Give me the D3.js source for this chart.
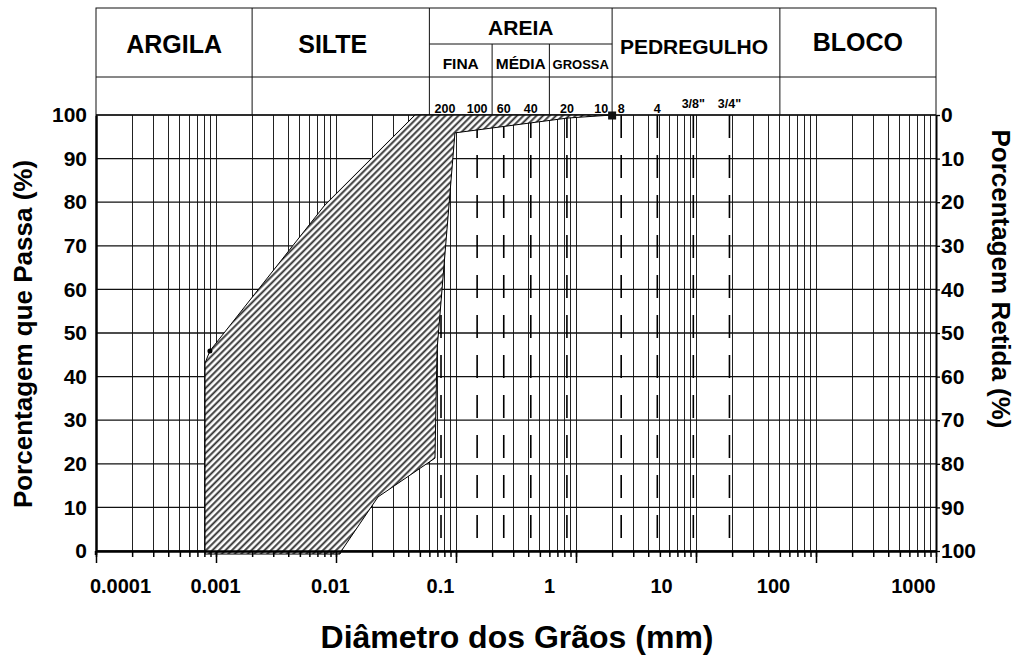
<!DOCTYPE html>
<html>
<head>
<meta charset="utf-8">
<script src="https://cdn.jsdelivr.net/npm/d3@7"></script>
<style>
  body { margin: 0; background: #fff; }
  svg { display: block; }
</style>
</head>
<body>
<svg id="chart" width="1017" height="657"></svg>
<script>
// ---- Grain-size axis (mm) ----
const diameterDomain = [0.0001, 1000];
const diameterTicks = [0.0001, 0.001, 0.01, 0.1, 1, 10, 100, 1000];
const diameterTickLabels = ["0.0001", "0.001", "0.01", "0.1", "1", "10", "100", "1000"];
// horizontal nudge of each decade label (px)
const diameterLabelShift = [24, -1, -6, -16, -27, -35, -43, -23];

// ---- Percentage axes ----
const percentTicks = [0, 10, 20, 30, 40, 50, 60, 70, 80, 90, 100];

// ---- Soil classes (ABNT) ----
const classNames = ["ARGILA", "SILTE", "AREIA", "PEDREGULHO", "BLOCO"];
const classBounds = [0.0001, 0.002, 0.06, 2, 50, 1000];
const classLabelShift = [0, -8, 0, -2, 0];
const sandNames = ["FINA", "MÉDIA", "GROSSA"];
const sandBounds = [0.06, 0.2, 0.6, 2];

// ---- Sieves ----
const sieveLabels = ["200", "100", "60", "40", "20", "10", "8", "4", "3/8\"", "3/4\""];
const sieveOpenings = [0.075, 0.15, 0.25, 0.42, 0.84, 2.0, 2.38, 4.76, 9.5, 19.0];

// ---- Grading envelope ----
// finer limit, from the bottom up
const finerDiam = [0.00081, 0.00081, 0.00089, 0.0081, 0.0455];
const finerPass = [-0.7, 43.1, 45.9, 79.4, 100];
// coarser limit, from the top down
const coarserDiam = [2.0, 0.85, 0.098, 0.0695, 0.0668, 0.0224, 0.0112, 0.0108];
const coarserPass = [100, 99.3, 95.9, 46.1, 21.3, 12.4, 0.2, -0.7];

// ---------------------------------------------------------------
const FONT = "'Liberation Sans', Arial, Helvetica, sans-serif";
const svg = d3.select("#chart");

const x = d3.scaleLog().domain(diameterDomain).range([96, 936]);
const y = d3.scaleLinear().domain([0, 100]).range([551, 115]);
const yRet = d3.scaleLinear().domain([100, 0]).range([551, 115]);

// hatch fill
const defs = svg.append("defs");
const hp = 4.6;
const pat = defs.append("pattern")
  .attr("id", "hatch")
  .attr("patternUnits", "userSpaceOnUse")
  .attr("width", hp).attr("height", hp)
  .attr("patternTransform", "rotate(45)");
pat.append("rect").attr("width", hp).attr("height", hp).attr("fill", "#fff");
pat.append("line")
  .attr("x1", 1.2).attr("x2", 1.2).attr("y1", 0).attr("y2", hp)
  .attr("stroke", "#333").attr("stroke-width", 1.9);

// ---- grid ----
const grid = svg.append("g");
grid.selectAll("line.v")
  .data(x.ticks())
  .join("line")
  .attr("class", "v")
  .attr("x1", d => x(d)).attr("x2", d => x(d))
  .attr("y1", y(100)).attr("y2", y(0))
  .attr("stroke", "#222").attr("stroke-width", 1)
  .attr("shape-rendering", "crispEdges");
grid.selectAll("line.h")
  .data(percentTicks)
  .join("line")
  .attr("class", "h")
  .attr("x1", x(diameterDomain[0])).attr("x2", x(diameterDomain[1]))
  .attr("y1", d => y(d)).attr("y2", d => y(d))
  .attr("stroke", "#111").attr("stroke-width", 1.3);

// sieve lines (dashed), #10 coincides with the 2 mm grid line
const sieves = sieveOpenings.map((d, i) => ({ d, label: sieveLabels[i] }));
svg.append("g").selectAll("line")
  .data(sieves.filter(s => s.label !== "10"))
  .join("line")
  .attr("x1", s => x(s.d)).attr("x2", s => x(s.d))
  .attr("y1", y(100)).attr("y2", y(0))
  .attr("stroke", "#000").attr("stroke-width", 1.6)
  .attr("stroke-dasharray", "23,17");

// ---- envelope ----
const finer = finerDiam.map((d, i) => ({ d, p: finerPass[i] }));
const coarser = coarserDiam.map((d, i) => ({ d, p: coarserPass[i] }));
const envLine = d3.line().x(p => x(p.d)).y(p => y(p.p));
svg.append("path")
  .attr("d", envLine(finer.concat(coarser)) + "Z")
  .attr("fill", "url(#hatch)")
  .attr("stroke", "#000").attr("stroke-width", 1);

// markers
svg.append("circle")
  .attr("cx", x(finer[2].d)).attr("cy", y(finer[2].p))
  .attr("r", 2.5).attr("fill", "#000");
svg.append("rect")
  .attr("x", x(coarser[0].d) - 4).attr("y", y(coarser[0].p) - 3.5)
  .attr("width", 8).attr("height", 8).attr("fill", "#111");

// ---- axes ----
const bottom = svg.append("g").attr("transform", `translate(0,${y(0)})`);
bottom.call(d3.axisBottom(x).tickValues(x.ticks()).tickSize(6).tickFormat("").tickSizeOuter(0));
const bottomMajor = svg.append("g").attr("transform", `translate(0,${y(0)})`);
bottomMajor.call(d3.axisBottom(x).tickValues(diameterTicks).tickSize(12).tickSizeOuter(0)
  .tickFormat((d, i) => diameterTickLabels[i]).tickPadding(16));
[bottom, bottomMajor].forEach(g => {
  g.select(".domain").attr("stroke", "#000").attr("stroke-width", 2);
  g.selectAll(".tick line").attr("stroke", "#000").attr("stroke-width", 1.5);
});
bottomMajor.selectAll(".tick text")
  .attr("dx", (d, i) => diameterLabelShift[i])
  .attr("fill", "#000")
  .style("font-family", FONT).style("font-weight", "bold").style("font-size", "20px");

const left = svg.append("g").attr("transform", `translate(${x(diameterDomain[0])},0)`);
left.call(d3.axisLeft(y).tickValues(percentTicks).tickSize(0).tickPadding(9).tickSizeOuter(0));
left.select(".domain").attr("stroke", "#000").attr("stroke-width", 2.5);
left.selectAll(".tick text")
  .attr("fill", "#000")
  .style("font-family", FONT).style("font-weight", "bold").style("font-size", "21px");

const right = svg.append("g").attr("transform", `translate(${x(diameterDomain[1])},0)`);
right.call(d3.axisRight(yRet).tickValues(percentTicks).tickSize(4).tickPadding(1).tickSizeOuter(0));
right.select(".domain").attr("stroke", "#000").attr("stroke-width", 2);
right.selectAll(".tick line").attr("stroke", "#000").attr("stroke-width", 1.3);
right.selectAll(".tick text")
  .attr("fill", "#000")
  .style("font-family", FONT).style("font-weight", "bold").style("font-size", "21px");

// extend the left axis line slightly past the corner
svg.append("line")
  .attr("x1", x(diameterDomain[0])).attr("x2", x(diameterDomain[0]))
  .attr("y1", y(0)).attr("y2", y(0) + 4)
  .attr("stroke", "#000").attr("stroke-width", 2.5);

// ---- header table ----
const hTop = 8, hMid = 77, hSand = 44, hBot = y(100);
const header = svg.append("g").attr("stroke", "#111").attr("stroke-width", 1).attr("fill", "none");
header.append("rect")
  .attr("x", x(diameterDomain[0])).attr("y", hTop)
  .attr("width", x(diameterDomain[1]) - x(diameterDomain[0])).attr("height", hBot - hTop);
header.append("line")
  .attr("x1", x(diameterDomain[0])).attr("x2", x(diameterDomain[1]))
  .attr("y1", hMid).attr("y2", hMid);
header.selectAll("line.cls")
  .data(classBounds.slice(1, -1))
  .join("line").attr("class", "cls")
  .attr("x1", d => x(d)).attr("x2", d => x(d))
  .attr("y1", hTop).attr("y2", hBot);
header.append("line")
  .attr("x1", x(sandBounds[0])).attr("x2", x(sandBounds[3]))
  .attr("y1", hSand).attr("y2", hSand);
header.selectAll("line.sand")
  .data(sandBounds.slice(1, -1))
  .join("line").attr("class", "sand")
  .attr("x1", d => x(d)).attr("x2", d => x(d))
  .attr("y1", hSand).attr("y2", hBot);

const classes = classNames.map((name, i) => ({ name, a: classBounds[i], b: classBounds[i + 1], dx: classLabelShift[i] }));
const classSize = { ARGILA: 25, SILTE: 25, AREIA: 21, PEDREGULHO: 21, BLOCO: 25 };
const classBase = { ARGILA: 53, SILTE: 53, AREIA: 35, PEDREGULHO: 54, BLOCO: 51 };
svg.append("g").selectAll("text")
  .data(classes)
  .join("text")
  .attr("x", c => (x(c.a) + x(c.b)) / 2 + c.dx)
  .attr("y", c => classBase[c.name])
  .attr("text-anchor", "middle")
  .style("font-family", FONT).style("font-weight", "bold")
  .style("font-size", c => classSize[c.name] + "px")
  .text(c => c.name);

const sands = sandNames.map((name, i) => ({ name, a: sandBounds[i], b: sandBounds[i + 1] }));
const sandSize = { "FINA": 15.5, "MÉDIA": 15.5, "GROSSA": 13 };
svg.append("g").selectAll("text")
  .data(sands)
  .join("text")
  .attr("x", c => (x(c.a) + x(c.b)) / 2)
  .attr("y", 69)
  .attr("text-anchor", "middle")
  .style("font-family", FONT).style("font-weight", "bold")
  .style("font-size", c => sandSize[c.name] + "px")
  .text(c => c.name);

svg.append("g").selectAll("text")
  .data(sieves)
  .join("text")
  .attr("x", s => s.label === "10" ? x(s.d) - 4 : x(s.d) + (s.label === "200" ? 4 : 0))
  .attr("y", s => s.label.includes("/") ? 108 : 113)
  .attr("text-anchor", s => s.label === "10" ? "end" : "middle")
  .style("font-family", FONT).style("font-weight", "bold").style("font-size", "12.5px")
  .text(s => s.label);

// ---- axis titles ----
svg.append("text")
  .attr("transform", "translate(32,334) rotate(-90)")
  .attr("text-anchor", "middle")
  .style("font-family", FONT).style("font-weight", "bold").style("font-size", "26px")
  .text("Porcentagem que Passa (%)");
svg.append("text")
  .attr("transform", "translate(992,279) rotate(90)")
  .attr("text-anchor", "middle")
  .style("font-family", FONT).style("font-weight", "bold").style("font-size", "26px")
  .text("Porcentagem Retida (%)");
svg.append("text")
  .attr("x", 517).attr("y", 648)
  .attr("text-anchor", "middle")
  .style("font-family", FONT).style("font-weight", "bold").style("font-size", "32px")
  .text("Diâmetro dos Grãos (mm)");
</script>
</body>
</html>
